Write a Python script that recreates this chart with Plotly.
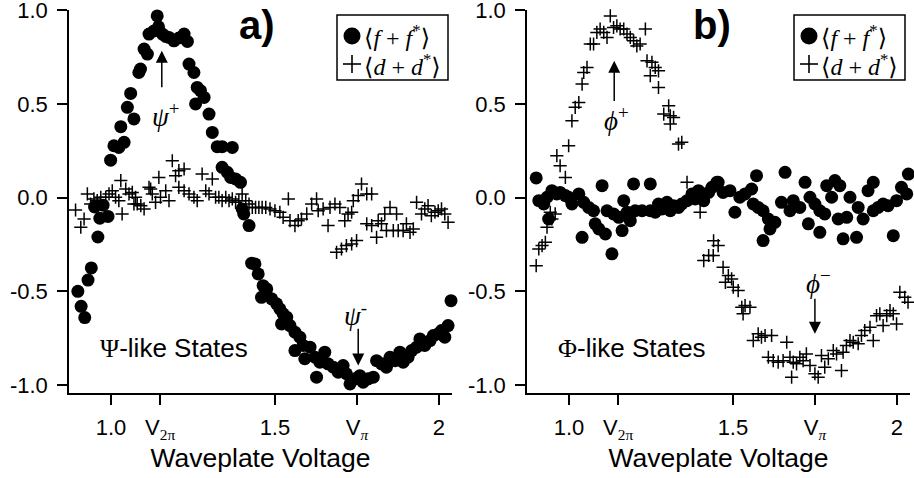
import plotly.graph_objects as go

# ---- Panel a: Psi-like states ----
a_ff_x = [0.899, 0.909, 0.920, 0.930, 0.940, 0.950, 0.960, 0.966, 0.976, 0.991,
          0.999, 1.009, 1.024, 1.030, 1.040, 1.050, 1.060, 1.070, 1.085, 1.090,
          1.101, 1.111, 1.116, 1.131, 1.141, 1.145, 1.157, 1.167, 1.177, 1.192,
          1.207, 1.223, 1.233, 1.238, 1.253, 1.258, 1.263, 1.273, 1.284, 1.299,
          1.309, 1.324, 1.339, 1.339, 1.355, 1.365, 1.370, 1.380, 1.395, 1.400,
          1.405, 1.421, 1.429, 1.439, 1.449, 1.459, 1.464, 1.475, 1.490, 1.505,
          1.515, 1.520, 1.525, 1.536, 1.546, 1.561, 1.561, 1.576, 1.586, 1.591,
          1.607, 1.622, 1.627, 1.637, 1.652, 1.662, 1.678, 1.693, 1.708, 1.718,
          1.729, 1.744, 1.759, 1.769, 1.784, 1.800, 1.810, 1.825, 1.840, 1.851,
          1.866, 1.881, 1.891, 1.906, 1.917, 1.932, 1.942, 1.957, 1.973, 1.983,
          1.998, 2.008, 2.018, 2.028, 2.037]
a_ff_y = [-0.50, -0.58, -0.64, -0.44, -0.375, -0.05, -0.21, -0.11, -0.04, -0.10,
          0.20, 0.277, 0.268, 0.379, 0.295, 0.482, 0.556, 0.42, 0.668, 0.686,
          0.793, 0.766, 0.873, 0.89, 0.97, 0.912, 0.873, 0.86, 0.855, 0.837,
          0.852, 0.873, 0.834, 0.713, 0.668, 0.50, 0.588, 0.571, 0.535, 0.446,
          0.348, 0.272, 0.272, 0.162, 0.135, 0.108, 0.268, 0.10, 0.082, -0.06,
          -0.087, -0.149, -0.35, -0.354, -0.407, -0.532, -0.47, -0.487, -0.54, -0.567,
          -0.594, -0.674, -0.62, -0.638, -0.683, -0.718, -0.816, -0.745, -0.789, -0.86,
          -0.798, -0.852, -0.958, -0.878, -0.825, -0.887, -0.905, -0.932, -0.896, -0.94,
          -0.994, -0.967, -0.95, -0.985, -0.967, -0.958, -0.87, -0.887, -0.905, -0.852,
          -0.87, -0.825, -0.878, -0.852, -0.816, -0.798, -0.754, -0.789, -0.763, -0.736,
          -0.727, -0.709, -0.745, -0.683, -0.55]

a_dd_x = [0.892, 0.908, 0.918, 0.928, 0.938, 0.948, 0.958, 0.969, 0.984, 0.994,
          1.004, 1.014, 1.024, 1.030, 1.034, 1.045, 1.055, 1.065, 1.070, 1.075,
          1.080, 1.091, 1.101, 1.116, 1.121, 1.126, 1.136, 1.146, 1.151, 1.167,
          1.177, 1.187, 1.197, 1.207, 1.207, 1.223, 1.223, 1.238, 1.253, 1.263,
          1.278, 1.289, 1.299, 1.309, 1.319, 1.329, 1.339, 1.350, 1.360, 1.370,
          1.380, 1.390, 1.400, 1.411, 1.421, 1.431, 1.441, 1.451, 1.461, 1.472,
          1.485, 1.500, 1.515, 1.525, 1.541, 1.546, 1.561, 1.571, 1.581, 1.597,
          1.612, 1.627, 1.632, 1.647, 1.662, 1.668, 1.683, 1.688, 1.698, 1.703,
          1.713, 1.718, 1.723, 1.734, 1.734, 1.739, 1.749, 1.754, 1.764, 1.780,
          1.780, 1.795, 1.795, 1.810, 1.815, 1.825, 1.835, 1.840, 1.851, 1.861,
          1.871, 1.876, 1.891, 1.901, 1.912, 1.922, 1.932, 1.947, 1.957, 1.967,
          1.977, 1.988, 1.998, 2.008, 2.018, 2.028]
a_dd_y = [-0.066, -0.158, -0.114, 0.02, -0.034, -0.007, -0.016, 0.002, 0.002, 0.02,
          0.037, 0.002, -0.016, 0.091, -0.087, 0.046, 0.02, 0.028, -0.034, 0.002,
          -0.034, -0.043, -0.06, 0.055, 0.046, 0.02, -0.025, 0.108, 0.002, 0.037,
          -0.016, 0.197, 0.117, 0.144, 0.055, 0.153, 0.037, 0.02, 0.002, -0.016,
          0.126, 0.037, 0.02, 0.10, 0.002, 0.002, -0.016, 0.002, -0.016, -0.007,
          -0.025, -0.016, 0.02, -0.016, -0.034, -0.052, -0.052, -0.052, -0.052, -0.052,
          -0.06, -0.07, -0.078, -0.105, -0.007, -0.123, -0.149, -0.123, -0.114, -0.087,
          -0.034, -0.007, -0.07, -0.06, -0.149, -0.052, -0.034, -0.292, -0.052, -0.274,
          -0.123, -0.256, -0.087, -0.078, -0.247, -0.016, -0.229, 0.011, 0.073, 0.02,
          -0.14, 0.02, -0.149, -0.212, -0.123, -0.14, -0.087, -0.176, -0.052, -0.176,
          -0.087, -0.176, -0.176, -0.14, -0.185, -0.167, -0.025, -0.087, -0.06, -0.043,
          -0.096, -0.078, -0.07, -0.06, -0.087, -0.132]

# ---- Panel b: Phi-like states ----
b_ff_x = [0.900, 0.908, 0.923, 0.933, 0.938, 0.948, 0.963, 0.973, 0.989, 0.999,
          1.009, 1.030, 1.040, 1.045, 1.060, 1.075, 1.080, 1.091, 1.101, 1.111,
          1.116, 1.131, 1.136, 1.152, 1.162, 1.167, 1.177, 1.187, 1.197, 1.202,
          1.223, 1.248, 1.248, 1.263, 1.273, 1.284, 1.299, 1.309, 1.319, 1.334,
          1.344, 1.360, 1.375, 1.385, 1.395, 1.411, 1.426, 1.436, 1.451, 1.455,
          1.470, 1.491, 1.506, 1.521, 1.537, 1.557, 1.562, 1.572, 1.577, 1.592,
          1.592, 1.608, 1.613, 1.628, 1.648, 1.659, 1.674, 1.684, 1.704, 1.720,
          1.730, 1.735, 1.750, 1.765, 1.765, 1.780, 1.786, 1.801, 1.811, 1.821,
          1.826, 1.836, 1.847, 1.857, 1.877, 1.882, 1.897, 1.912, 1.928, 1.928,
          1.943, 1.958, 1.973, 1.989, 1.999, 2.014, 2.030, 2.035]
b_ff_y = [0.105, -0.016, -0.034, 0.002, -0.114, 0.037, 0.02, 0.028, 0.011, 0.002,
          -0.034, 0.02, -0.212, -0.025, -0.052, -0.07, -0.14, -0.167, 0.064, -0.194,
          -0.07, -0.30, -0.087, -0.105, -0.176, -0.016, -0.078, -0.123, 0.073, -0.07,
          -0.07, 0.073, -0.07, -0.078, -0.034, -0.06, -0.025, -0.07, -0.043, -0.052,
          -0.034, -0.016, 0.02, -0.007, 0.037, -0.016, 0.028, 0.055, 0.082, 0.082,
          0.028, 0.037, -0.078, 0.002, 0.02, 0.046, -0.034, 0.117, -0.052, -0.07,
          -0.229, -0.114, -0.167, -0.132, -0.025, 0.135, -0.07, -0.016, -0.052, 0.082,
          -0.14, 0.002, -0.034, -0.185, -0.07, -0.087, 0.064, 0.002, 0.091, -0.114,
          0.064, -0.22, -0.105, 0.002, -0.212, -0.052, -0.114, 0.037, 0.082, -0.07,
          -0.052, -0.034, -0.043, -0.203, -0.016, 0.055, 0.02, 0.126]

b_dd_x = [0.900, 0.908, 0.918, 0.928, 0.933, 0.943, 0.948, 0.958, 0.963, 0.973,
          0.989, 0.999, 1.009, 1.019, 1.030, 1.040, 1.045, 1.055, 1.065, 1.075,
          1.085, 1.095, 1.106, 1.116, 1.126, 1.136, 1.146, 1.156, 1.167, 1.177,
          1.187, 1.197, 1.207, 1.217, 1.233, 1.238, 1.248, 1.253, 1.263, 1.273,
          1.273, 1.289, 1.304, 1.309, 1.309, 1.319, 1.334, 1.344, 1.360, 1.400,
          1.411, 1.426, 1.440, 1.441, 1.455, 1.470, 1.477, 1.486, 1.496, 1.501,
          1.516, 1.527, 1.531, 1.537, 1.552, 1.562, 1.577, 1.587, 1.598, 1.608,
          1.618, 1.623, 1.638, 1.653, 1.664, 1.674, 1.679, 1.684, 1.694, 1.704,
          1.714, 1.724, 1.735, 1.750, 1.760, 1.770, 1.780, 1.791, 1.806, 1.816,
          1.831, 1.836, 1.846, 1.857, 1.867, 1.882, 1.892, 1.902, 1.918, 1.928,
          1.938, 1.948, 1.958, 1.969, 1.979, 1.989, 1.999, 2.009, 2.024, 2.034]
b_dd_y = [-0.363, -0.274, -0.256, -0.238, -0.158, -0.078, -0.114, -0.087, 0.224, 0.17,
          0.108, 0.277, 0.41, 0.482, 0.508, 0.606, 0.668, 0.695, 0.82, 0.82,
          0.882, 0.90, 0.882, 0.855, 0.97, 0.908, 0.917, 0.90, 0.90, 0.873,
          0.855, 0.837, 0.81, 0.82, 0.90, 0.73, 0.651, 0.722, 0.695, 0.677,
          0.588, 0.446, 0.49, 0.437, 0.393, 0.428, 0.286, 0.295, 0.082, -0.078,
          -0.336, -0.309, -0.309, -0.23, -0.256, -0.372, -0.452, -0.416, -0.434, -0.478,
          -0.496, -0.585, -0.62, -0.576, -0.585, -0.763, -0.727, -0.745, -0.736, -0.852,
          -0.736, -0.87, -0.878, -0.87, -0.772, -0.852, -0.958, -0.878, -0.887, -0.852,
          -0.87, -0.834, -0.896, -0.94, -0.958, -0.843, -0.905, -0.86, -0.816, -0.834,
          -0.923, -0.825, -0.789, -0.763, -0.772, -0.78, -0.736, -0.709, -0.692, -0.763,
          -0.63, -0.62, -0.683, -0.63, -0.603, -0.62, -0.674, -0.505, -0.532, -0.558]

x_tickvals = [1.0, 1.15, 1.5, 1.75, 2.0]
SERIF = "Liberation Serif, DejaVu Serif, serif"
SANS = "Liberation Sans, Arial, sans-serif"
x_ticktext = ["1.0",
              f"V<sub><span style='font-family:{SERIF}'>2π</span></sub>",
              "1.5",
              f"V<sub><span style='font-family:{SERIF}'><i>π</i></span></sub>",
              "2"]
y_tickvals = [-1.0, -0.5, 0.0, 0.5, 1.0]
y_ticktext = ["-1.0", "-0.5", "0.0", "0.5", "1.0"]
legend_labels = ["⟨<i>f</i> + <i>f</i><sup>*</sup>⟩", "⟨<i>d</i> + <i>d</i><sup>*</sup>⟩"]

X_RANGE = [0.872, 2.040]
Y_RANGE = [-1.0427, 1.0015]

W, H = 914, 478
dot = dict(symbol="circle", size=13, color="black", line=dict(width=0))
cross = dict(symbol="cross-thin", size=9.4, color="black",
             line=dict(width=1.5, color="black"))

fig = go.Figure()
for xa, ya, ffx, ffy, ddx, ddy in [("x", "y", a_ff_x, a_ff_y, a_dd_x, a_dd_y),
                                   ("x2", "y2", b_ff_x, b_ff_y, b_dd_x, b_dd_y)]:
    fig.add_trace(go.Scatter(x=ddx, y=ddy, mode="markers", marker=cross,
                             xaxis=xa, yaxis=ya, showlegend=False, cliponaxis=False,
                             name="⟨d+d*⟩"))
    fig.add_trace(go.Scatter(x=ffx, y=ffy, mode="markers", marker=dot,
                             xaxis=xa, yaxis=ya, showlegend=False, cliponaxis=False,
                             name="⟨f+f*⟩"))

axis_common = dict(showline=True, linecolor="black", linewidth=1.5, mirror=False,
                   ticks="outside", ticklen=10, tickwidth=1.5, tickcolor="black",
                   showgrid=False, zeroline=False, ticklabeloverflow="allow",
                   automargin=False,
                   tickfont=dict(family=SANS, size=22, color="black"))

xaxis_common = dict(axis_common, range=X_RANGE, tickmode="array",
                    tickvals=x_tickvals, ticktext=x_ticktext, ticklabelstandoff=4,
                    title=dict(text="Waveplate Voltage", standoff=0,
                               font=dict(family=SANS, size=26.5, color="black")))
yaxis_common = dict(axis_common, range=Y_RANGE, tickmode="array",
                    tickvals=y_tickvals, ticktext=y_ticktext, ticklabelstandoff=5)

Y_DOM = [1 - 393 / H, 1 - 10 / H]
fig.update_layout(
    width=W, height=H,
    margin=dict(l=0, r=0, t=0, b=0, autoexpand=False),
    paper_bgcolor="white", plot_bgcolor="white",
    xaxis=dict(xaxis_common, domain=[69 / W, 452 / W], anchor="y"),
    yaxis=dict(yaxis_common, domain=Y_DOM, anchor="x"),
    xaxis2=dict(xaxis_common, domain=[527 / W, 910 / W], anchor="y2"),
    yaxis2=dict(yaxis_common, domain=Y_DOM, anchor="x2"),
)

annotations = []
shapes = []

# panel letters
for xc, letter in [(257 / W, "a)"), (712 / W, "b)")]:
    annotations.append(dict(xref="paper", yref="paper", x=xc, y=1 - 25 / H,
                            text=f"<b>{letter}</b>", showarrow=False,
                            font=dict(family=SANS, size=40, color="black"),
                            xanchor="center", yanchor="middle"))


# legend boxes: frame, symbol icons and labels
def px(v):
    return v / W


def py(v):
    return 1 - v / H


for left in [337, 794]:
    shapes.append(dict(type="rect", xref="paper", yref="paper",
                       x0=px(left), x1=px(left + 111), y0=py(15), y1=py(80),
                       line=dict(color="black", width=1.5), fillcolor="white",
                       layer="above"))
    cx, cy1, cy2 = left + 15, 36, 64
    shapes.append(dict(type="circle", xref="paper", yref="paper",
                       x0=px(cx - 8.5), x1=px(cx + 8.5), y0=py(cy1 + 8.5), y1=py(cy1 - 8.5),
                       line=dict(width=0), fillcolor="black", layer="above"))
    shapes.append(dict(type="line", xref="paper", yref="paper",
                       x0=px(cx - 9), x1=px(cx + 9), y0=py(cy2), y1=py(cy2),
                       line=dict(color="black", width=1.6), layer="above"))
    shapes.append(dict(type="line", xref="paper", yref="paper",
                       x0=px(cx), x1=px(cx), y0=py(cy2 - 9), y1=py(cy2 + 9),
                       line=dict(color="black", width=1.6), layer="above"))
    for cy, lab in [(cy1, legend_labels[0]), (cy2 + 1, legend_labels[1])]:
        annotations.append(dict(xref="paper", yref="paper", x=px(left + 25), y=py(cy),
                                text=lab, showarrow=False, xanchor="left",
                                yanchor="middle",
                                font=dict(family=SERIF, size=24, color="black")))

# state labels
for xa, ya, sym in [("x", "y", "Ψ"), ("x2", "y2", "Φ")]:
    annotations.append(dict(xref=xa, yref=ya, x=0.96, y=-0.805,
                            text=f"<span style='font-family:{SERIF}'>{sym}</span>-like States",
                            showarrow=False, xanchor="left", yanchor="middle",
                            font=dict(family=SANS, size=26, color="black")))

# arrows marking the Bell states
arrow_specs = [
    ("x", "y", 1.155, 0.784, 0.581),
    ("x", "y", 1.754, -0.896, -0.692),
    ("x2", "y2", 1.138, 0.731, 0.508),
    ("x2", "y2", 1.750, -0.727, -0.532),
]
for xa, ya, xv, tip, tail in arrow_specs:
    annotations.append(dict(xref=xa, yref=ya, axref=xa, ayref=ya,
                            x=xv, y=tip, ax=xv, ay=tail, text="",
                            showarrow=True, arrowhead=2, arrowsize=1.6,
                            arrowwidth=1.5, arrowcolor="black", standoff=0))

state_labels = [
    ("x", "y", 1.165, 0.44, "<i>ψ</i><sup>+</sup>"),
    ("x", "y", 1.745, -0.62, "<i>ψ</i><sup>-</sup>"),
    ("x2", "y2", 1.145, 0.42, "<i>ϕ</i><sup>+</sup>"),
    ("x2", "y2", 1.76, -0.45, "<i>ϕ</i><sup>−</sup>"),
]
for xa, ya, xv, yv, txt in state_labels:
    annotations.append(dict(xref=xa, yref=ya, x=xv, y=yv, text=txt,
                            showarrow=False, xanchor="center", yanchor="middle",
                            font=dict(family=SERIF, size=27, color="black")))

fig.update_layout(annotations=annotations, shapes=shapes)
fig.write_html("out.html")
